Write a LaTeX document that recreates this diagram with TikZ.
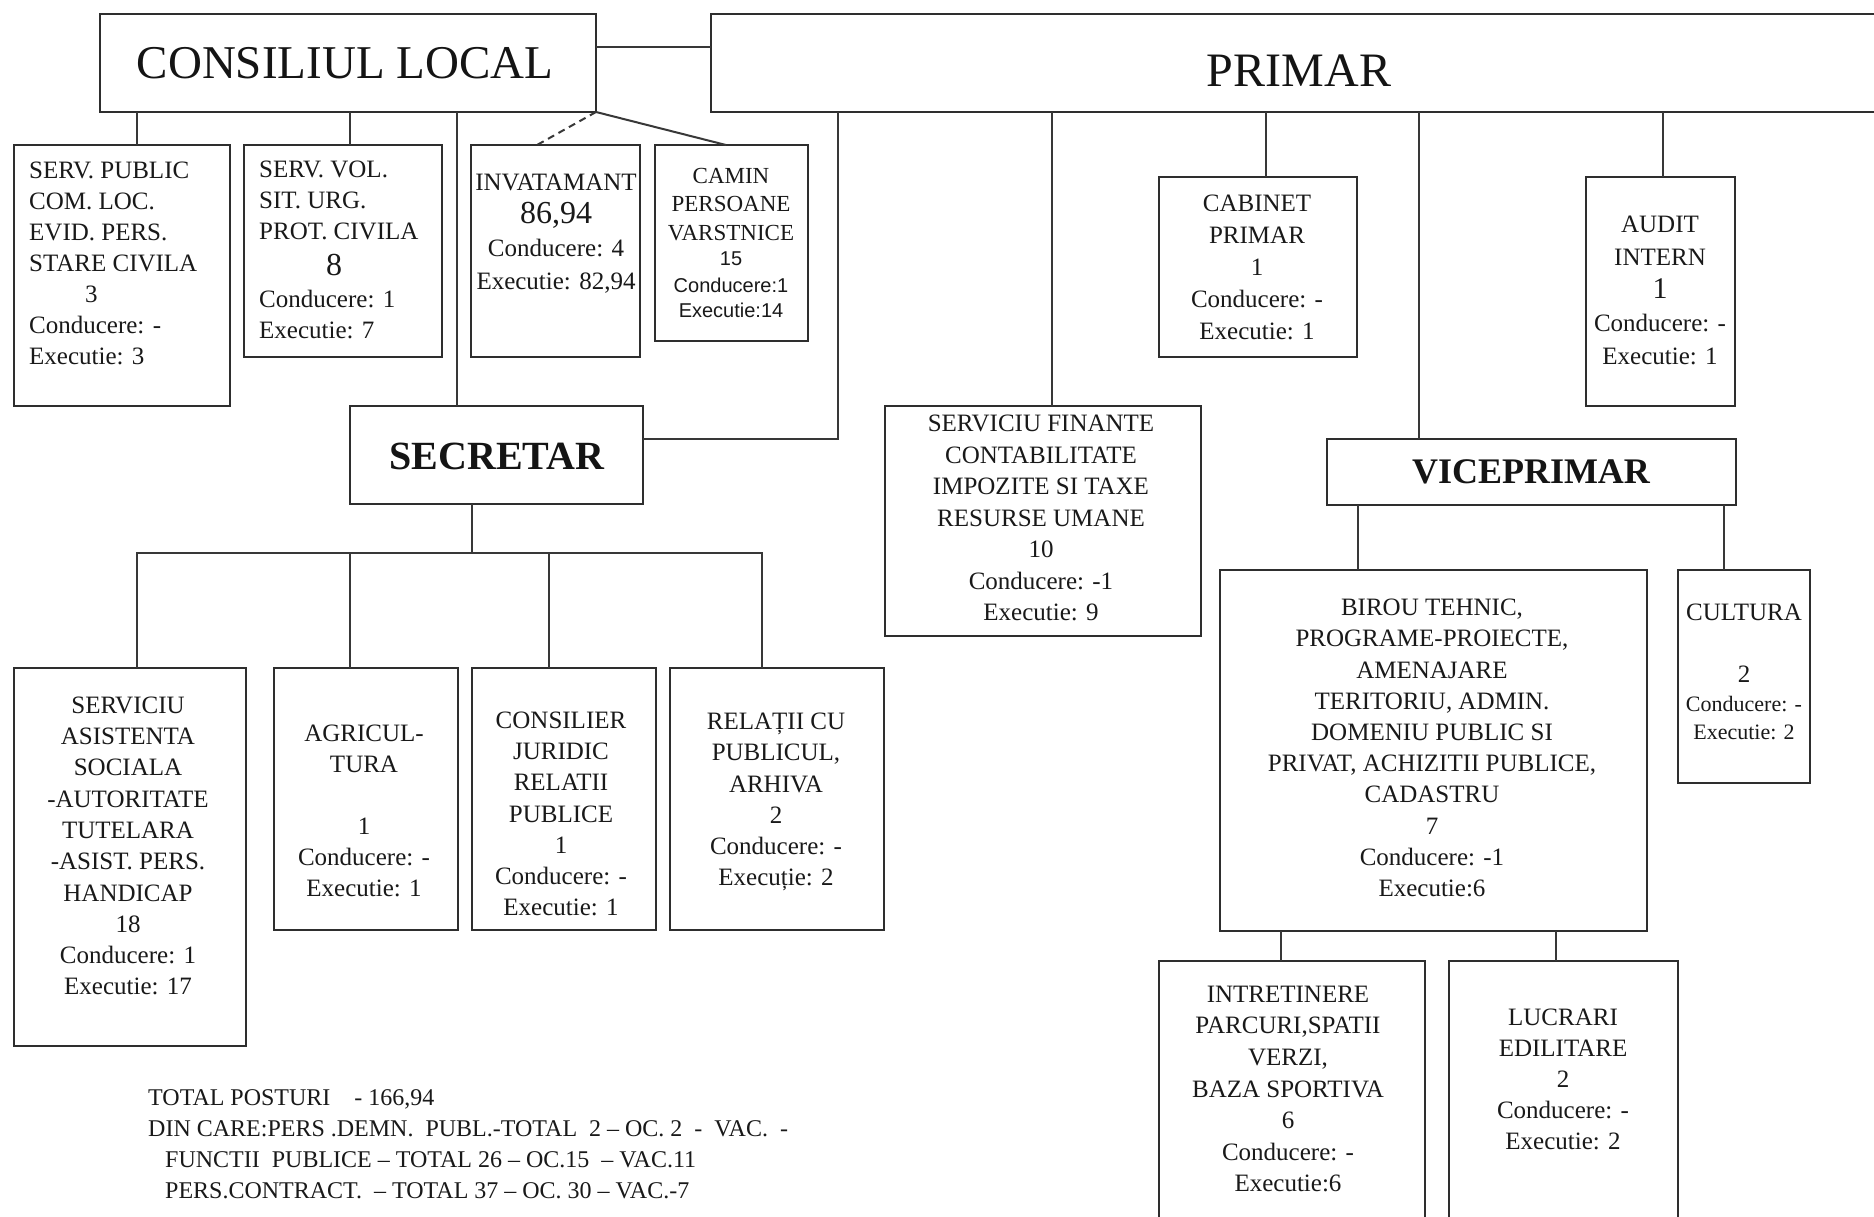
\documentclass[tikz,border=0pt]{standalone}
\usepackage{fontspec}
\setmainfont{Liberation Serif}
\newfontfamily\sansf{Liberation Sans}
\newcommand\mkbox[5]{\node[boxst,minimum width={#4-#2},minimum height={#5-#3}] (#1) at (#2,#3) {};}
\newcommand\fs[2]{\fontsize{#1}{#2}\selectfont}
\begin{document}
\begin{tikzpicture}[x=1pt,y=-1pt,
  boxst/.style={draw=black!82, line width=2.4pt, rectangle, inner sep=0pt, outer sep=0pt, anchor=north west, fill=white},
  txt/.style={align=center, inner sep=0pt, text=black!90, font=\fs{25}{31}},
  ln/.style={draw=black!78, line width=2pt},
  title/.style={inner sep=0pt, text=black!92}
]
\path[use as bounding box, fill=white] (0,0) rectangle (1874,1217);
\clip (0,0) rectangle (1874,1217);

% boxes
\mkbox{cl}{100}{14}{596}{112}
\mkbox{pr}{711}{14}{1890}{112}
\mkbox{sp}{14}{145}{230}{406}
\mkbox{sv}{244}{145}{442}{357}
\mkbox{inv}{471}{145}{640}{357}
\mkbox{cam}{655}{145}{808}{341}
\mkbox{sec}{350}{406}{643}{504}
\mkbox{sf}{885}{406}{1201}{636}
\mkbox{cab}{1159}{177}{1357}{357}
\mkbox{aud}{1586}{177}{1735}{406}
\mkbox{vp}{1327}{439}{1736}{505}
\mkbox{bt}{1220}{570}{1647}{931}
\mkbox{cult}{1678}{570}{1810}{783}
\mkbox{as}{14}{668}{246}{1046}
\mkbox{agr}{274}{668}{458}{930}
\mkbox{cons}{472}{668}{656}{930}
\mkbox{rel}{670}{668}{884}{930}
\mkbox{intr}{1159}{961}{1425}{1260}
\mkbox{luc}{1449}{961}{1678}{1260}
\coordinate (bus) at (472,553);

% connectors
\draw[ln] ([xshift=15pt]sp.north) -- ([xshift=15pt]sp.north |- cl.south);
\draw[ln] ([xshift=7pt]sv.north) -- ([xshift=7pt]sv.north |- cl.south);
\draw[ln] ([xshift=-39.5pt]sec.north) -- ([xshift=-39.5pt]sec.north |- cl.south);
\draw[ln, dash pattern=on 7pt off 5pt] (cl.south east) -- ([xshift=-18.5pt]inv.north);
\draw[ln] (cl.south east) -- ([xshift=-5.5pt]cam.north);
\draw[ln] ([yshift=16pt]cl.east) -- ([yshift=16pt]cl.east -| pr.west);
\draw[ln] ([yshift=16pt]sec.east) -| ([xshift=-462.5pt]pr.south);
\draw[ln] ([xshift=9pt]sf.north) -- ([xshift=9pt]sf.north |- pr.south);
\draw[ln] ([xshift=8pt]cab.north) -- ([xshift=8pt]cab.north |- pr.south);
\draw[ln] ([xshift=-112.5pt]vp.north) -- ([xshift=-112.5pt]vp.north |- pr.south);
\draw[ln] ([xshift=2.5pt]aud.north) -- ([xshift=2.5pt]aud.north |- pr.south);
\draw[ln] ([xshift=-24.5pt]sec.south) -- (bus);
\draw[ln] ([xshift=7pt]as.north) |- (bus);
\draw[ln] ([xshift=-16pt]agr.north) |- (bus);
\draw[ln] ([xshift=-15pt]cons.north) |- (bus);
\draw[ln] ([xshift=-15pt]rel.north) |- (bus);
\draw[ln] ([xshift=-76pt]bt.north) -- ([xshift=-76pt]bt.north |- vp.south);
\draw[ln] ([xshift=-20pt]cult.north) -- ([xshift=-20pt]cult.north |- vp.south);
\draw[ln] ([xshift=-11pt]intr.north) -- ([xshift=-11pt]intr.north |- bt.south);
\draw[ln] ([xshift=-7.5pt]luc.north) -- ([xshift=-7.5pt]luc.north |- bt.south);

% titles
\node[title, font=\fs{47}{50}] (tcl) at (345,63) {CONSILIUL LOCAL};
\node[title, font=\fs{48}{50}] (tpr) at (1299,71) {PRIMAR};
\node[title, font=\bfseries\fs{40}{44}] (tsec) at (497,456) {SECRETAR};
\node[title, font=\bfseries\fs{36}{40}] (tvp) at (1531,472) {VICEPRIMAR};

% box texts
\node[txt, align=left, anchor=west] (tsp) at (29,263)
  {SERV. PUBLIC\\COM. LOC.\\EVID. PERS.\\STARE CIVILA\\\hspace*{56pt}3\\Conducere: -\\Executie: 3};
\node[txt, align=left, anchor=west] (tsv) at (259,250)
  {SERV. VOL.\\SIT. URG.\\PROT. CIVILA\\[5pt]\hspace*{67pt}{\fs{32}{36}8}\\[1pt]Conducere: 1\\Executie: 7};
\node[txt, font=\fs{25}{33}] (tinv) at (556,234)
  {{\fs{25}{33}INVATAMANT}\\{\fs{32}{36}86,94}\\Conducere: 4\\Executie: 82,94};
\node[txt, font=\fs{23}{28.5}] (tcam) at (731,243)
  {CAMIN\\PERSOANE\\VARSTNICE\\[-3pt]{\sansf\fs{20}{25}15}\\[-2pt]{\sansf\fs{20}{25}Conducere:1}\\[-3pt]{\sansf\fs{20}{25}Executie:14}};
\node[txt, font=\fs{25}{32}] (tcab) at (1257,267)
  {CABINET\\PRIMAR\\1\\Conducere: -\\Executie: 1};
\node[txt, font=\fs{25}{33}] (taud) at (1660,290)
  {AUDIT\\INTERN\\{\fs{30}{33}1}\\Conducere: -\\Executie: 1};
\node[txt, font=\fs{25}{31.5}] (tsf) at (1041,518)
  {SERVICIU FINANTE\\CONTABILITATE\\IMPOZITE SI TAXE\\RESURSE UMANE\\10\\Conducere: -1\\Executie: 9};
\node[txt, font=\fs{25}{31.2}] (tbt) at (1432,748)
  {BIROU TEHNIC,\\PROGRAME-PROIECTE,\\AMENAJARE\\TERITORIU, ADMIN.\\DOMENIU PUBLIC SI\\PRIVAT, ACHIZITII PUBLICE,\\CADASTRU\\7\\Conducere: -1\\Executie:6};
\node[txt, font=\fs{25}{31}] (tcult) at (1744,672)
  {CULTURA\\[31pt]2\\[-2pt]{\fs{22}{28}Conducere: -}\\[-3pt]{\fs{22}{28}Executie: 2}};
\node[txt, font=\fs{25}{31.3}] (tas) at (128,846)
  {SERVICIU\\ASISTENTA\\SOCIALA\\-AUTORITATE\\TUTELARA\\-ASIST. PERS.\\HANDICAP\\18\\Conducere: 1\\Executie: 17};
\node[txt, font=\fs{25}{31}] (tagr) at (364,811)
  {AGRICUL-\\TURA\\[31pt]1\\Conducere: -\\Executie: 1};
\node[txt, font=\fs{25}{31.2}] (tcons) at (561,814)
  {CONSILIER\\JURIDIC\\RELATII\\PUBLICE\\1\\Conducere: -\\Executie: 1};
\node[txt, font=\fs{25}{31.2}] (trel) at (776,802)
  {RELAȚII CU\\PUBLICUL,\\ARHIVA\\2\\Conducere: -\\Execuție: 2};
\node[txt, font=\fs{25}{31.6}] (tintr) at (1288,1089)
  {INTRETINERE\\PARCURI,SPATII\\VERZI,\\BAZA SPORTIVA\\6\\Conducere: -\\Executie:6};
\node[txt, font=\fs{25}{31}] (tluc) at (1563,1079)
  {LUCRARI\\EDILITARE\\2\\Conducere: -\\Executie: 2};

% totals
\node[txt, align=left, anchor=west, font=\fs{24}{31}] (ttot) at (148,1144.5)
  {TOTAL POSTURI\ \ \ \ - 166,94\\DIN CARE:PERS .DEMN.\ \ PUBL.-TOTAL\ \ 2 – OC. 2\ \ -\ \ VAC.\ \ -\\\hspace*{17pt}FUNCTII\ \ PUBLICE – TOTAL 26 – OC.15\ \ – VAC.11\\\hspace*{17pt}PERS.CONTRACT.\ \ – TOTAL 37 – OC. 30 – VAC.-7};
\end{tikzpicture}
\end{document}
